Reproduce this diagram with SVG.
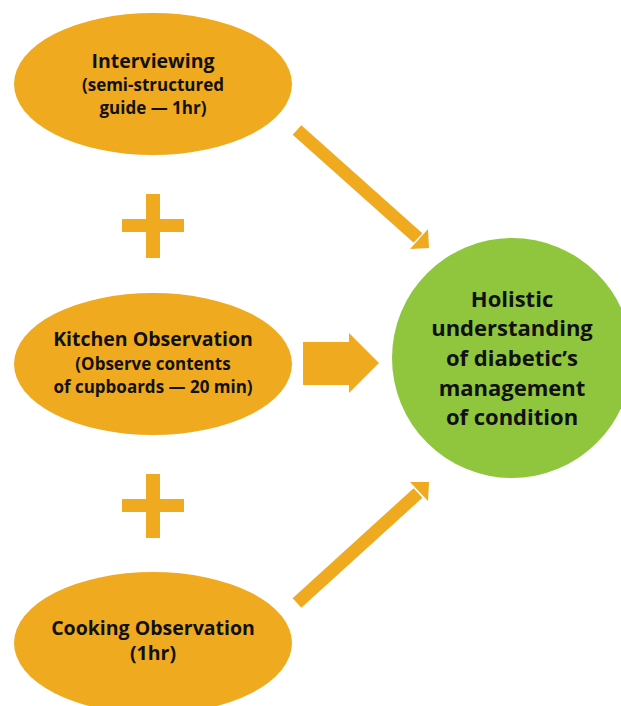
<svg xmlns="http://www.w3.org/2000/svg" width="621" height="706" viewBox="0 0 621 706">
<style>
.o{fill:#EFAA20}
.g{fill:#8FC63E}
text{font-family:"Open Sans","Liberation Sans",sans-serif;font-weight:700;fill:#111;text-anchor:middle}
.h{font-size:19.5px}
.s{font-size:17px}
.c{font-size:22px}
</style>
<rect width="621" height="706" fill="#fff"/>
<g id="interviewing">
<ellipse class="o" cx="153" cy="84" rx="139" ry="71"/>
<text class="h" x="153" y="68">Interviewing</text>
<text class="s" x="153" y="91">(semi-structured</text>
<text class="s" x="153" y="114">guide — 1hr)</text>
</g>
<g id="plus1"><rect class="o" x="146" y="194" width="14" height="64"/><rect class="o" x="122" y="219" width="62" height="13"/></g>
<g id="kitchen">
<ellipse class="o" cx="153" cy="364" rx="139" ry="71"/>
<text class="h" x="153" y="346">Kitchen Observation</text>
<text class="s" x="153" y="370">(Observe contents</text>
<text class="s" x="153" y="393">of cupboards — 20 min)</text>
</g>
<g id="plus2"><rect class="o" x="146" y="474" width="14" height="64"/><rect class="o" x="122" y="499" width="62" height="13"/></g>
<g id="cooking">
<ellipse class="o" cx="153" cy="643" rx="139" ry="71"/>
<text class="h" x="153" y="635">Cooking Observation</text>
<text class="h" x="153" y="660">(1hr)</text>
</g>
<g id="holistic">
<circle class="g" cx="512" cy="358" r="120"/>
<text class="c" x="512" y="307">Holistic</text>
<text class="c" x="512" y="336">understanding</text>
<text class="c" x="512" y="366">of diabetic’s</text>
<text class="c" x="512" y="396">management</text>
<text class="c" x="512" y="425">of condition</text>
</g>
<g id="connectors">
<line x1="297" y1="130" x2="418" y2="238" stroke="#EFAA20" stroke-width="13"/>
<polygon class="o" points="410,249 429,248 428,229"/>
<line x1="297" y1="603" x2="418" y2="493" stroke="#EFAA20" stroke-width="13"/>
<polygon class="o" points="410,482 429,482 428,501"/>
<polygon class="o" points="303,342 349,342 349,333 379,363 349,393 349,385 303,385"/>
</g>
</svg>
